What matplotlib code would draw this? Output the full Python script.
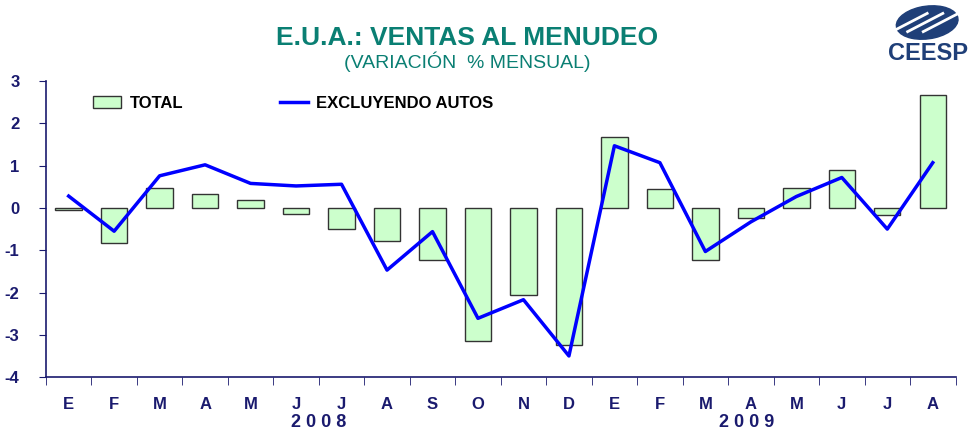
import matplotlib
matplotlib.use("Agg")
import matplotlib.pyplot as plt
import matplotlib.transforms as mtransforms
from matplotlib.patches import Patch, Ellipse
from matplotlib.lines import Line2D
import numpy as np

plt.rcParams["font.family"] = ["Liberation Sans", "DejaVu Sans"]

# datos
months = ["E", "F", "M", "A", "M", "J", "J", "A", "S", "O", "N", "D",
          "E", "F", "M", "A", "M", "J", "J", "A"]
total = [-0.05, -0.83, 0.47, 0.33, 0.19, -0.15, -0.50, -0.79, -1.23, -3.14,
         -2.06, -3.24, 1.67, 0.44, -1.23, -0.24, 0.46, 0.90, -0.17, 2.68]
sin_autos = [0.28, -0.55, 0.76, 1.02, 0.58, 0.52, 0.56, -1.47, -0.56, -2.61,
             -2.17, -3.50, 1.47, 1.07, -1.03, -0.33, 0.27, 0.72, -0.50, 1.07]
years = ["2008", "2009"]
year_pos = [5.5, 14.9]

navy = "#1a1a6e"
teal = "#0a7f73"

fig = plt.figure(figsize=(9.77, 4.29), dpi=100)
ax = fig.add_axes([0.047, 0.121, 0.931, 0.690])

x = np.arange(len(months))
ax.bar(x, total, width=0.58, color="#ccffcc", edgecolor="#333333", linewidth=1, zorder=2)
ax.plot(x, sin_autos, color="#0000ff", linewidth=2.5, zorder=3)

ax.set_xlim(-0.5, len(months) - 0.5)
ax.set_ylim(-4, 3)
ax.set_yticks(range(-4, 4))
ax.set_yticklabels([str(v) for v in range(-4, 4)], fontsize=12, fontweight="bold", color=navy)
ax.set_xticks(x)
ax.set_xticklabels(months, fontsize=12, fontweight="bold", color=navy)
ax.set_xticks(np.arange(-0.5, len(months)), minor=True)
ax.tick_params(axis="x", which="major", length=0, pad=14)
ax.tick_params(axis="x", which="minor", length=6, color=navy, direction="out")
ax.tick_params(axis="y", length=5, color=navy, pad=14)

for s in ["top", "right"]:
    ax.spines[s].set_visible(False)
for s in ["left", "bottom"]:
    ax.spines[s].set_color(navy)
    ax.spines[s].set_linewidth(1.2)
ax.set_facecolor("none")

trans = mtransforms.blended_transform_factory(ax.transData, fig.transFigure)
for yr, xp in zip(years, year_pos):
    ax.text(xp, 0.016, " ".join(yr), transform=trans, ha="center",
            va="center", fontsize=13, fontweight="bold", color=navy)

handles = [Patch(facecolor="#ccffcc", edgecolor="#333333", label="TOTAL"),
           Line2D([0], [0], color="#0000ff", linewidth=2.5, label="EXCLUYENDO AUTOS")]
leg = ax.legend(handles=handles, ncol=2, loc="upper left", bbox_to_anchor=(0.035, 1.0),
                frameon=False, columnspacing=5.8, handlelength=1.7, handletextpad=0.5,
                prop={"weight": "bold", "size": 12})

fig.text(0.478, 0.912, "E.U.A.: VENTAS AL MENUDEO", ha="center", va="center",
         fontsize=19, fontweight="bold", color=teal)
fig.text(0.478, 0.855, "(VARIACIÓN  % MENSUAL)", ha="center", va="center",
         fontsize=14, color=teal)

# logo
logo = fig.add_axes([0.905, 0.905, 0.08, 0.085])
logo.set_xlim(0, 1)
logo.set_ylim(0, 1)
logo.axis("off")
logo.add_patch(Ellipse((0.55, 0.5), 0.75, 0.95, angle=-25, color="#1f3f78"))
for k in [-0.2, 0.0, 0.2]:
    logo.plot([0.3 + k, 0.75 + k], [0.25, 0.75], color="white", linewidth=2)
fig.text(0.95, 0.876, "CEESP", ha="center", va="center", fontsize=17,
         fontweight="bold", color="#1f3f78")

fig.savefig("out.png", dpi=100)
